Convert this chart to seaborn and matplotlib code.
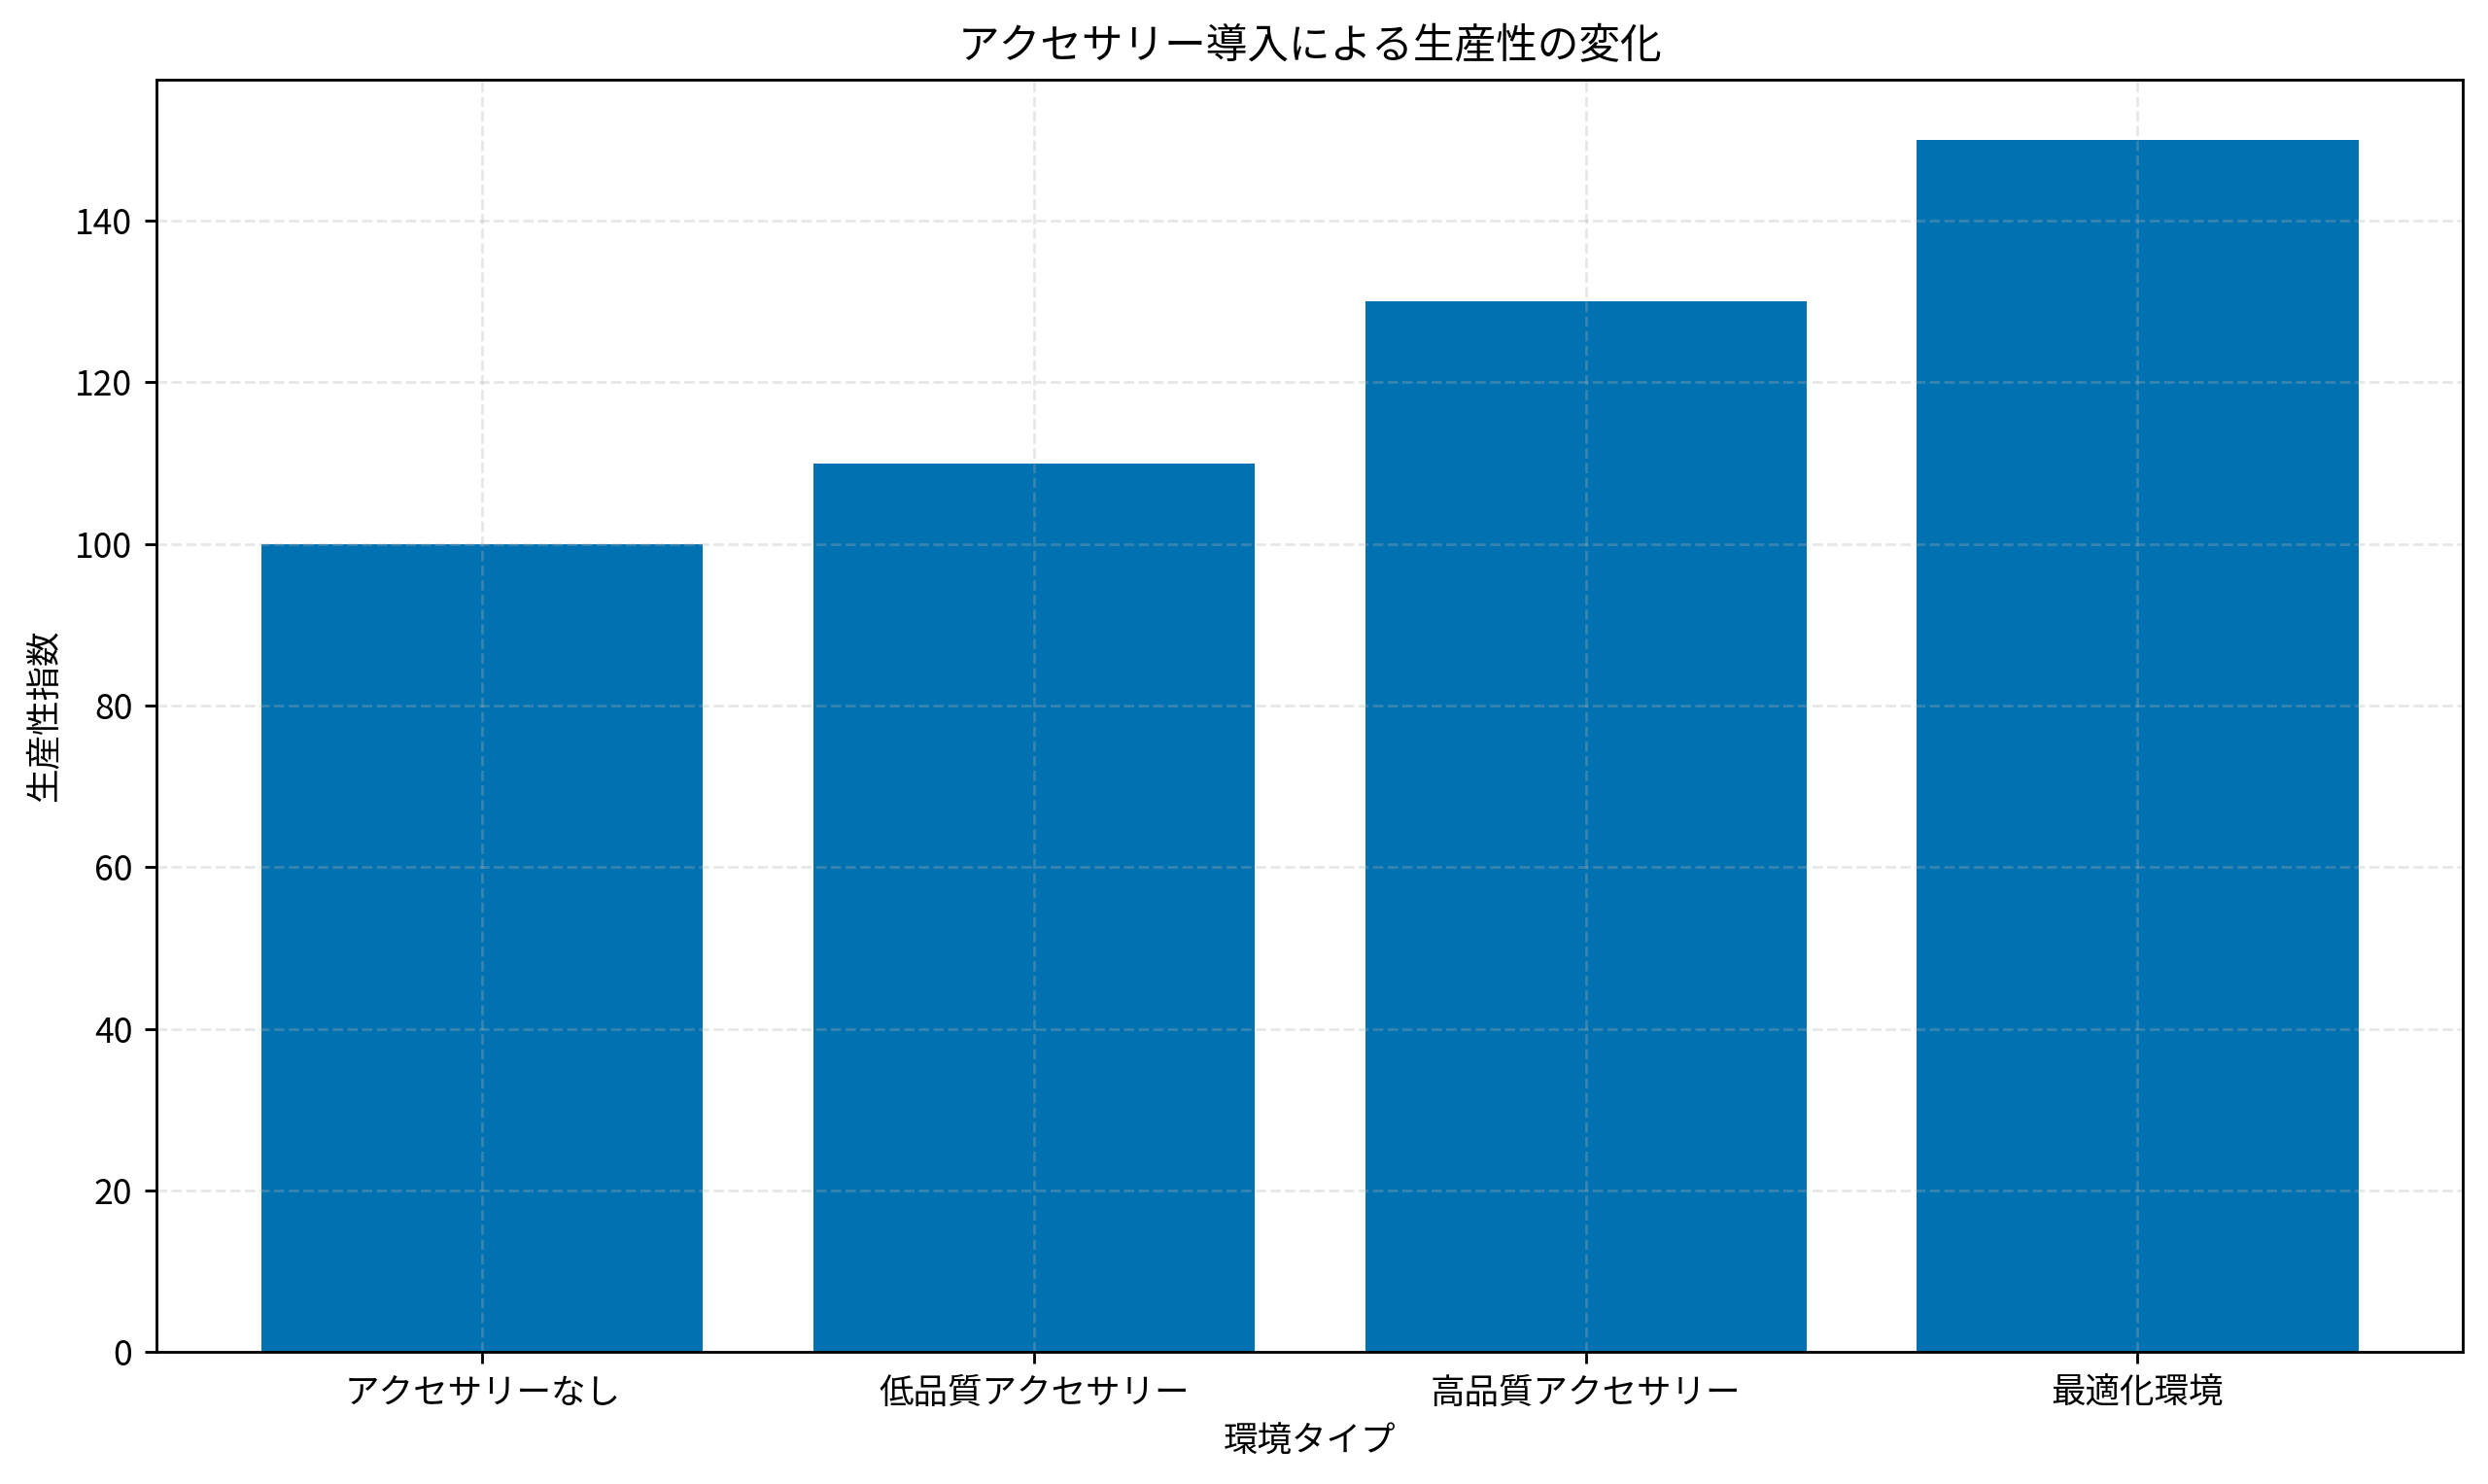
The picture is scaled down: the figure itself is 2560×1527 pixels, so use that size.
import matplotlib
matplotlib.use("Agg")
import matplotlib.pyplot as plt
import seaborn as sns
import pandas as pd

plt.rcParams['font.family'] = ['Noto Sans CJK JP', 'DejaVu Sans']

# 環境ごとの生産性指数
environments = ["アクセサリーなし", "低品質アクセサリー", "高品質アクセサリー", "最適化環境"]
productivity = [100, 110, 130, 150]

df = pd.DataFrame({"環境タイプ": environments, "生産性指数": productivity})

fig, ax = plt.subplots(figsize=(10, 5.965))
sns.barplot(data=df, x="環境タイプ", y="生産性指数", color="#0072B2",
            saturation=1, width=0.8, ax=ax)

ax.set_xlim(-0.59, 3.59)
ax.set_title("アクセサリー導入による生産性の変化", fontsize=12)
ax.set_xlabel("環境タイプ")
ax.set_ylabel("生産性指数")
ax.grid(True, linestyle='--', alpha=0.3)
fig.subplots_adjust(left=0.063, right=0.99, top=0.9465, bottom=0.089)
plt.savefig("out.png", dpi=256)
